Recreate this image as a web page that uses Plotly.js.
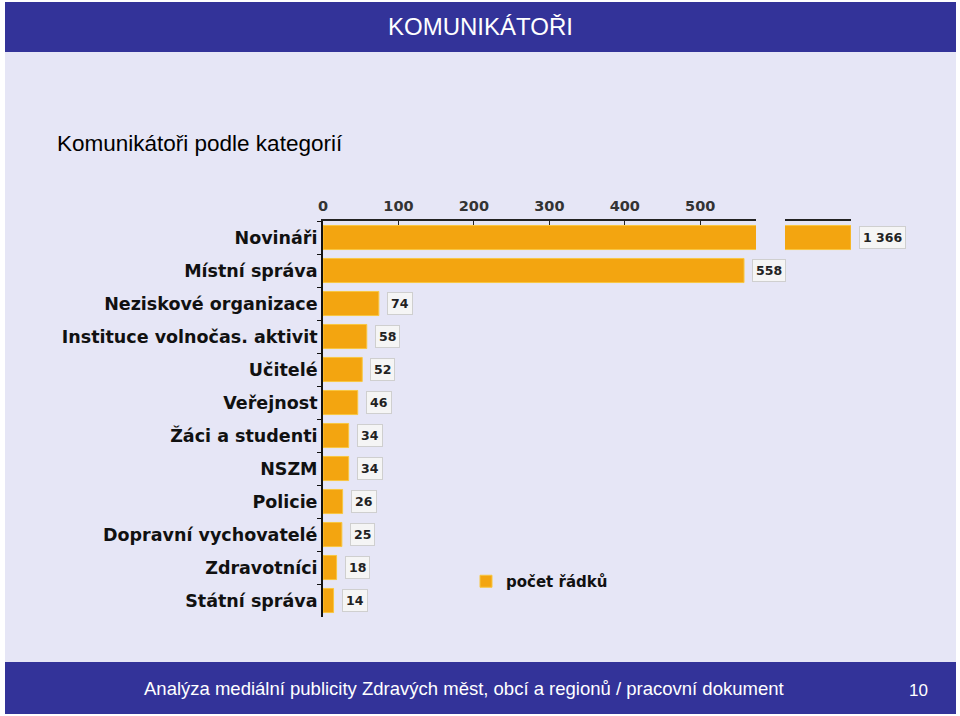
<!DOCTYPE html>
<html>
<head>
<meta charset="utf-8">
<script src="https://cdn.plot.ly/plotly-3.0.1.min.js"></script>
<style>
html,body{margin:0;padding:0;background:#ffffff;}
#chart{width:960px;height:716px;}
</style>
</head>
<body>
<div id="chart"></div>
<script>
// ---- data ----
const categories = [
  "Novináři",
  "Místní správa",
  "Neziskové organizace",
  "Instituce volnočas. aktivit",
  "Učitelé",
  "Veřejnost",
  "Žáci a studenti",
  "NSZM",
  "Policie",
  "Dopravní vychovatelé",
  "Zdravotníci",
  "Státní správa"
];
const counts = [1366, 558, 74, 58, 52, 46, 34, 34, 26, 25, 18, 14];
const seriesName = "počet řádků";
const xTickValues = [0, 100, 200, 300, 400, 500];
const brokenCategory = "Novináři";

const slideTitle = "KOMUNIKÁTOŘI";
const chartTitle = "Komunikátoři podle kategorií";
const footerText = "Analýza mediální publicity Zdravých měst, obcí a regionů / pracovní dokument";
const pageNumber = "10";

// ---- layout helpers (pixel -> paper) ----
const W = 960, H = 716;
const M = {l: 323, r: 109, t: 221, b: 99};
const PW = W - M.l - M.r, PH = H - M.t - M.b;
const px = x => (x - M.l) / PW;
const py = y => (H - M.b - y) / PH;

function fmt(v){ return String(v).replace(/\B(?=(\d{3})+(?!\d))/g, " "); }

const barColor = "#F3A510";
const barLine = "#F8C640";

const brokenIdx = categories.indexOf(brokenCategory);

const traces = [
  {
    type: "bar",
    orientation: "h",
    y: categories,
    x: counts,
    name: seriesName,
    xaxis: "x",
    yaxis: "y",
    marker: {color: barColor, line: {color: barLine, width: 1}},
    hoverinfo: "y+x",
    showlegend: true
  },
  {
    type: "bar",
    orientation: "h",
    y: [categories[brokenIdx]],
    x: [counts[brokenIdx]],
    name: seriesName,
    xaxis: "x2",
    yaxis: "y",
    marker: {color: barColor, line: {color: barLine, width: 1}},
    hoverinfo: "y+x",
    showlegend: false
  }
];

const labelFont = {family: "DejaVu Sans", size: 12.5, color: "#222222", weight: "bold"};
const annotations = categories.map((c, i) => ({
  xref: i === brokenIdx ? "x2" : "x",
  yref: "y",
  x: counts[i],
  y: c,
  text: fmt(counts[i]),
  showarrow: false,
  xanchor: "left",
  yanchor: "middle",
  xshift: 8,
  font: labelFont,
  bgcolor: "#F5F5F5",
  bordercolor: "#CFCFCF",
  borderwidth: 1,
  borderpad: 3
}));

annotations.push(
  {xref: "paper", yref: "paper", x: px(480), y: py(26), text: slideTitle, showarrow: false,
   xanchor: "center", yanchor: "middle", font: {family: "Liberation Sans, Arial", size: 24, color: "#ffffff"}},
  {xref: "paper", yref: "paper", x: px(55), y: py(143), text: chartTitle, showarrow: false,
   xanchor: "left", yanchor: "middle", font: {family: "Liberation Sans, Arial", size: 22.5, color: "#000000"}},
  {xref: "paper", yref: "paper", x: px(464), y: py(688), text: footerText, showarrow: false,
   xanchor: "center", yanchor: "middle", font: {family: "Liberation Sans, Arial", size: 18.5, color: "#ffffff"}},
  {xref: "paper", yref: "paper", x: px(918), y: py(690), text: pageNumber, showarrow: false,
   xanchor: "center", yanchor: "middle", font: {family: "Liberation Sans, Arial", size: 17, color: "#ffffff"}}
);

const shapes = [
  {type: "rect", xref: "paper", yref: "paper", layer: "below",
   x0: px(5), x1: px(956), y0: py(52), y1: py(662), fillcolor: "#E6E6F6", line: {width: 0}},
  {type: "rect", xref: "paper", yref: "paper", layer: "below",
   x0: px(5), x1: px(956), y0: py(2), y1: py(52), fillcolor: "#333399", line: {width: 0}},
  {type: "rect", xref: "paper", yref: "paper", layer: "below",
   x0: px(5), x1: px(956), y0: py(662), y1: py(714), fillcolor: "#333399", line: {width: 0}}
];

const scale = 0.7545; // px per unit
const axis1End = 756, axis2Start = 785;
const x1Max = (axis1End - M.l) / scale;
const x2Min = counts[brokenIdx] - (W - M.r - axis2Start) / scale;

const layout = {
  width: W, height: H,
  margin: M,
  paper_bgcolor: "#ffffff",
  plot_bgcolor: "rgba(0,0,0,0)",
  bargap: 0.27,
  showlegend: true,
  legend: {
    x: px(466), y: py(565), xanchor: "left", yanchor: "top",
    bgcolor: "rgba(0,0,0,0)",
    font: {family: "DejaVu Sans", size: 15, color: "#111111", weight: "bold"}
  },
  xaxis: {
    domain: [0, px(axis1End)],
    range: [0, x1Max],
    side: "top",
    anchor: "y",
    tickvals: xTickValues,
    ticks: "inside", ticklen: 4, tickcolor: "#222222",
    showline: true, linecolor: "#222222", linewidth: 2,
    showgrid: false, zeroline: false,
    ticklabelstandoff: 2,
    tickfont: {family: "DejaVu Sans", size: 14.5, color: "#333333", weight: "bold"},
    fixedrange: true
  },
  xaxis2: {
    domain: [px(axis2Start), 1],
    range: [x2Min, counts[brokenIdx]],
    side: "top",
    anchor: "y",
    showticklabels: false, ticks: "",
    showline: true, linecolor: "#222222", linewidth: 2,
    showgrid: false, zeroline: false,
    fixedrange: true
  },
  yaxis: {
    autorange: "reversed",
    type: "category",
    anchor: "x",
    showline: true, linecolor: "#111111", linewidth: 2,
    ticks: "outside", tickson: "boundaries", ticklen: 4, tickcolor: "#111111",
    showgrid: false, zeroline: false,
    tickfont: {family: "DejaVu Sans", size: 17.5, color: "#111111", weight: "bold"},
    fixedrange: true
  },
  annotations: annotations,
  shapes: shapes
};

Plotly.newPlot("chart", traces, layout, {displayModeBar: false, staticPlot: true});
</script>
</body>
</html>
